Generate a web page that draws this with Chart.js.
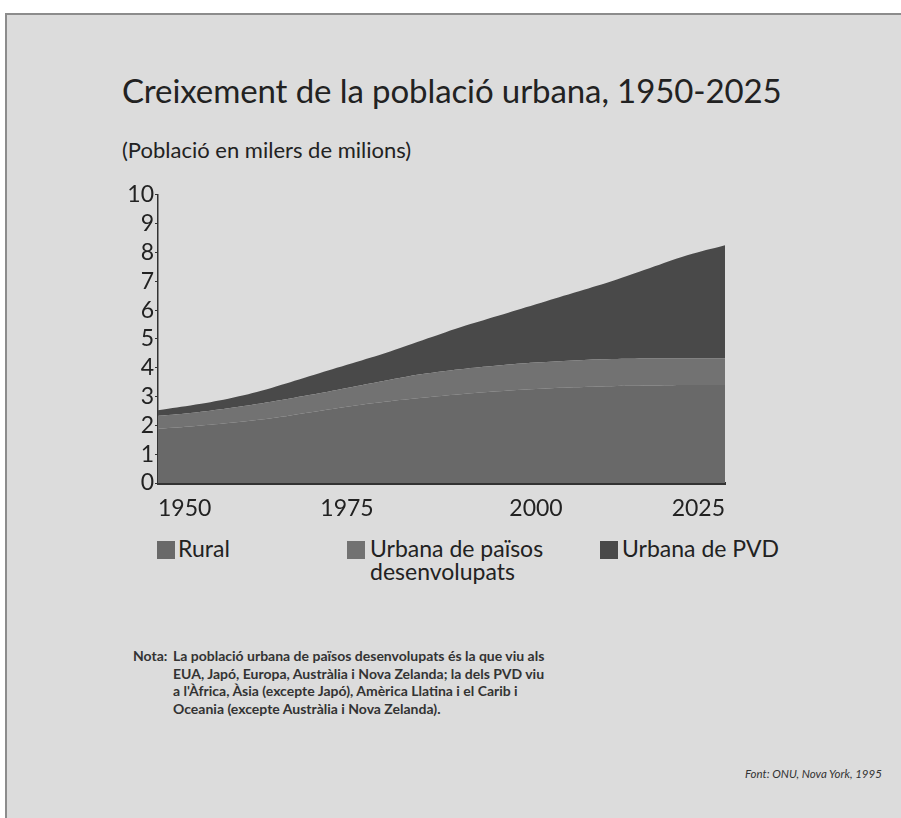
<!DOCTYPE html>
<html>
<head>
<meta charset="utf-8">
<script src="https://cdn.jsdelivr.net/npm/chart.js@4"></script>
<style>
  body { margin: 0; background: #fff; width: 901px; height: 818px; font-family: Lato, "Open Sans", sans-serif; color: #222; }
  #sheet { position: absolute; left: 5px; top: 13px; width: 894px; height: 803px; background: #dcdcdc; border-left: 2px solid #8c8c8c; border-top: 2px solid #8c8c8c; }
  .abs { position: absolute; white-space: nowrap; }
  #title { left: 122px; top: 70px; font-size: 33px; letter-spacing: -0.1px; }
  #subtitle { left: 122px; top: 136px; font-size: 22px; }
  #chartBox { position: absolute; left: 100px; top: 180px; width: 640px; height: 345px; }
  .leg { position: absolute; font-size: 23px; line-height: 23px; }
  .sw { position: absolute; width: 18px; height: 18px; }
  #note { left: 133px; top: 647px; font-size: 14px; line-height: 17.5px; color: #333; font-weight: bold; }
  #note .lbl { position: absolute; left: 0; top: 0; }
  #note .txt { position: absolute; left: 40px; top: 0; }
  #source { left: 745px; top: 767px; font-size: 11.5px; font-style: italic; color: #333; }
</style>
</head>
<body>
<div id="sheet"></div>
<div class="abs" id="title">Creixement de la població urbana, 1950-2025</div>
<div class="abs" id="subtitle">(Població en milers de milions)</div>
<div id="chartBox"><canvas id="chart"></canvas></div>
<div id="legend"></div>
<div class="abs" id="note">
  <span class="lbl">Nota:</span>
  <span class="txt">La població urbana de països desenvolupats és la que viu als<br>EUA, Japó, Europa, Austràlia i Nova Zelanda; la dels PVD viu<br>a l'Àfrica, Àsia (excepte Japó), Amèrica Llatina i el Carib i<br>Oceania (excepte Austràlia i Nova Zelanda).</span>
</div>
<div class="abs" id="source">Font: ONU, Nova York, 1995</div>

<script>
// --- Dades (milers de milions) ---
const years = [1950, 1955, 1960, 1965, 1970, 1975, 1980, 1985, 1990, 1995, 2000, 2005, 2010, 2015, 2020, 2025];
const rural = [1.88, 1.98, 2.10, 2.25, 2.45, 2.65, 2.82, 2.96, 3.08, 3.18, 3.26, 3.32, 3.36, 3.38, 3.40, 3.40];
const urbanDev = [0.45, 0.47, 0.52, 0.57, 0.60, 0.65, 0.73, 0.82, 0.87, 0.90, 0.92, 0.93, 0.94, 0.94, 0.92, 0.92];
const urbanPVD = [0.19, 0.27, 0.35, 0.48, 0.65, 0.80, 0.95, 1.17, 1.45, 1.72, 2.02, 2.35, 2.70, 3.13, 3.58, 3.93];
const xTicks = [1950, 1975, 2000, 2025];
const seriesNames = ['Rural', 'Urbana de països\ndesenvolupats', 'Urbana de PVD'];
const seriesColors = ['#696969', '#727272', '#494949'];

// --- Llegenda (HTML) ---
const legendPos = [[157, 178], [347, 370], [600, 622]];
const legend = document.getElementById('legend');
seriesNames.forEach((name, i) => {
  const sw = document.createElement('div');
  sw.className = 'sw';
  sw.style.left = legendPos[i][0] + 'px';
  sw.style.top = '541px';
  sw.style.background = seriesColors[i];
  legend.appendChild(sw);
  const t = document.createElement('div');
  t.className = 'leg';
  t.style.left = legendPos[i][1] + 'px';
  t.style.top = '537px';
  t.innerHTML = name.replace('\n', '<br>');
  legend.appendChild(t);
});

const toPoints = arr => arr.map((v, i) => ({ x: years[i], y: v }));
const series = [rural, urbanDev, urbanPVD];

const datasets = series.map((arr, i) => ({
  label: seriesNames[i],
  data: toPoints(arr),
  backgroundColor: seriesColors[i],
  borderWidth: 0,
  pointRadius: 0,
  fill: i === 0 ? 'origin' : '-1',
  tension: 0.4
}));

new Chart(document.getElementById('chart'), {
  type: 'line',
  data: { datasets: datasets },
  options: {
    responsive: true,
    maintainAspectRatio: false,
    animation: false,
    layout: { padding: { top: 10, right: 15, left: 0, bottom: 0 } },
    plugins: { legend: { display: false }, tooltip: { enabled: false } },
    scales: {
      x: {
        type: 'linear',
        min: 1950,
        max: 2025,
        afterBuildTicks: scale => { scale.ticks = xTicks.map(v => ({ value: v })); },
        afterFit: scale => { scale.height = 42; },
        grid: { display: false },
        border: { display: true, color: '#333', width: 3 },
        ticks: {
          align: 'inner',
          color: '#222',
          padding: 4,
          maxRotation: 0,
          autoSkip: false,
          font: { family: 'Lato', size: 23 },
          callback: v => String(v)
        }
      },
      y: {
        stacked: true,
        min: 0,
        max: 10,
        afterFit: scale => { scale.width = 58; },
        grid: { drawOnChartArea: false, drawTicks: true, tickLength: 3, color: '#333' },
        border: { display: true, color: '#333', width: 1.5 },
        ticks: {
          stepSize: 1,
          autoSkip: false,
          color: '#222',
          padding: 1,
          font: { family: 'Lato', size: 23 }
        }
      }
    }
  }
});
</script>
</body>
</html>
